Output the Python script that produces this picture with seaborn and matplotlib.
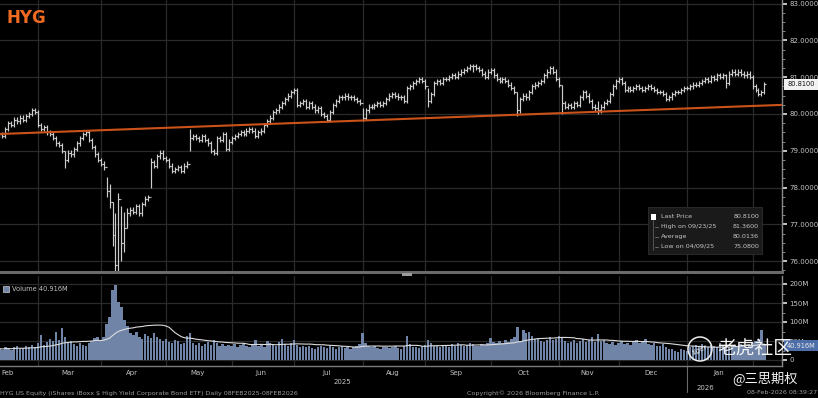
import numpy as np
import pandas as pd
import matplotlib
matplotlib.use("Agg")
import matplotlib.pyplot as plt
import matplotlib.transforms as mtransforms
from matplotlib.patches import Rectangle, Circle
from matplotlib.ticker import AutoMinorLocator
import seaborn as sns

# ------------------------------------------------------------------ data
start_date = "2025-02-10"
end_date = "2026-02-06"

close_2025_02 = [79.35, 79.40, 79.45, 79.40, 79.60, 79.75, 79.70, 79.85, 79.80, 79.90,
                 79.85, 79.95, 80.00, 80.10, 80.05]
close_2025_03 = [79.70, 79.60, 79.65, 79.50, 79.45, 79.35, 79.20, 79.15, 79.00, 78.75,
                 78.95, 78.90, 79.05, 79.20, 79.35, 79.45, 79.50, 79.30, 79.10, 78.90, 78.75]
close_2025_04 = [78.65, 78.55, 77.90, 77.60, 76.70, 75.90, 77.70, 76.50, 76.90, 77.30,
                 77.40, 77.35, 77.50, 77.30, 77.55, 77.70, 77.75, 78.70, 78.60, 78.85, 78.95, 78.80]
close_2025_05 = [78.75, 78.60, 78.45, 78.50, 78.55, 78.45, 78.60, 78.65, 79.35, 79.40,
                 79.35, 79.30, 79.40, 79.30, 79.20, 79.00, 78.95, 79.35, 79.30, 79.45, 79.05, 79.25]
close_2025_06 = [79.35, 79.40, 79.45, 79.50, 79.45, 79.55, 79.60, 79.55, 79.40, 79.50,
                 79.55, 79.70, 79.80, 79.90, 80.05, 80.10, 80.20, 80.30, 80.40, 80.50, 80.60]
close_2025_07 = [80.65, 80.25, 80.30, 80.35, 80.20, 80.30, 80.20, 80.10, 80.15, 80.00,
                 79.95, 79.85, 80.05, 80.25, 80.35, 80.45, 80.45, 80.50, 80.45, 80.45, 80.40, 80.35, 80.30]
close_2025_08 = [79.90, 80.10, 80.20, 80.20, 80.25, 80.30, 80.25, 80.30, 80.40, 80.50,
                 80.55, 80.50, 80.45, 80.45, 80.35, 80.70, 80.75, 80.85, 80.90, 80.95, 80.90]
close_2025_09 = [80.75, 80.35, 80.55, 80.85, 80.90, 80.85, 80.95, 80.95, 81.00, 81.05,
                 81.00, 81.10, 81.15, 81.20, 81.25, 81.30, 81.30, 81.25, 81.20, 81.10, 81.00, 81.15]
close_2025_10 = [81.20, 81.05, 80.95, 80.90, 80.95, 80.90, 80.80, 80.70, 80.60, 80.10,
                 80.40, 80.50, 80.45, 80.60, 80.75, 80.80, 80.85, 80.90, 81.05, 81.15, 81.25, 81.15, 80.95]
close_2025_11 = [80.80, 80.30, 80.20, 80.25, 80.20, 80.30, 80.25, 80.45, 80.60, 80.50,
                 80.35, 80.20, 80.15, 80.10, 80.20, 80.30, 80.35, 80.55, 80.75, 80.90]
close_2025_12 = [80.95, 80.85, 80.65, 80.70, 80.65, 80.70, 80.75, 80.70, 80.65, 80.70,
                 80.75, 80.70, 80.65, 80.60, 80.60, 80.55, 80.40, 80.45, 80.55, 80.60, 80.60, 80.65, 80.70]
close_2026_01 = [80.70, 80.75, 80.80, 80.80, 80.85, 80.90, 80.95, 80.90, 81.00, 80.95,
                 81.05, 81.00, 81.05, 80.85, 81.10, 81.15, 81.10, 81.15, 81.10, 81.05, 81.10, 81.00]
close_2026_02 = [80.75, 80.65, 80.55, 80.60, 80.81]

# days with a wide high-low range
wide_dates = ["2025-03-14", "2025-04-03", "2025-04-04", "2025-04-07", "2025-04-08",
              "2025-04-09", "2025-04-10", "2025-04-11", "2025-04-14", "2025-04-24",
              "2025-05-13", "2025-08-01", "2025-08-22", "2025-09-02", "2025-09-23",
              "2025-10-14", "2025-11-04", "2025-11-20", "2026-01-20"]
wide_lows = [78.53, 77.75, 77.45, 76.40, 75.50, 75.08, 76.00, 76.25, 76.90, 78.00,
             79.00, 79.80, 80.30, 80.20, 81.15, 79.95, 80.00, 80.00, 80.70]
wide_highs = [79.00, 78.30, 78.10, 77.60, 77.30, 77.85, 77.50, 77.35, 77.45, 78.80,
              79.60, 80.15, 80.75, 80.70, 81.36, 80.60, 80.80, 80.35, 81.10]

vol_2025_02 = [28, 32, 30, 26, 35, 30, 27, 33, 38, 29, 31, 36, 34, 40, 33]
vol_2025_03 = [45, 66, 40, 48, 55, 50, 74, 52, 84, 60, 45, 50, 42, 38, 44, 40, 36, 45, 50, 58, 60]
vol_2025_04 = [52, 60, 95, 113, 185, 197, 152, 140, 105, 90, 70, 65, 75, 60, 55, 68, 62, 58, 72, 60, 55, 50]
vol_2025_05 = [55, 48, 45, 52, 50, 42, 46, 62, 70, 45, 40, 44, 38, 42, 47, 40, 52, 45, 38, 42, 36, 40]
vol_2025_06 = [38, 42, 35, 40, 45, 36, 33, 40, 52, 38, 42, 35, 50, 44, 40, 36, 48, 55, 42, 38, 45]
vol_2025_07 = [52, 40, 35, 38, 33, 36, 32, 30, 35, 38, 34, 31, 36, 33, 30, 34, 37, 32, 35, 30, 33, 36, 42]
vol_2025_08 = [72, 45, 38, 34, 36, 32, 30, 33, 35, 31, 34, 38, 32, 30, 36, 62, 42, 35, 33, 31, 38]
vol_2025_09 = [40, 53, 45, 38, 36, 34, 40, 37, 35, 42, 38, 44, 40, 36, 39, 45, 41, 38, 36, 42, 40, 46]
vol_2025_10 = [58, 48, 44, 50, 46, 52, 48, 55, 60, 87, 50, 79, 71, 74, 62, 55, 58, 50, 48, 53, 60, 52, 55]
vol_2025_11 = [62, 58, 50, 45, 48, 52, 44, 50, 55, 47, 52, 60, 48, 68, 50, 53, 46, 42, 48, 40]
vol_2025_12 = [46, 50, 42, 45, 40, 48, 52, 44, 47, 55, 42, 40, 45, 38, 36, 42, 35, 30, 28, 25, 22, 30, 26]
vol_2026_01 = [24, 35, 38, 40, 36, 42, 38, 35, 40, 37, 33, 45, 39, 36, 34, 40, 38, 35, 42, 37, 33, 39]
vol_2026_02 = [45, 50, 55, 79, 40.916]

trend_prices = [79.45, 80.23]          # orange trend line at first / last day
month_names = ["Feb", "Mar", "Apr", "May", "Jun", "Jul", "Aug", "Sep", "Oct", "Nov", "Dec", "Jan", ""]
price_ticks = [76, 77, 78, 79, 80, 81, 82, 83]
vol_ticks = [0, 50, 100, 150, 200]
vol_tick_labels = ["0", "50M", "100M", "150M", "200M"]
legend_rows = [("Last Price", "80.8100"), ("High on 09/23/25", "81.3600"),
               ("Average", "80.0136"), ("Low on 04/09/25", "75.0800")]
last_price_label = "80.8100"
last_volume_label = "40.916M"

# ------------------------------------------------------------------ frame
dates = pd.bdate_range(start_date, end_date)
close = (close_2025_02 + close_2025_03 + close_2025_04 + close_2025_05 + close_2025_06 +
         close_2025_07 + close_2025_08 + close_2025_09 + close_2025_10 + close_2025_11 +
         close_2025_12 + close_2026_01 + close_2026_02)
volume = (vol_2025_02 + vol_2025_03 + vol_2025_04 + vol_2025_05 + vol_2025_06 + vol_2025_07 +
          vol_2025_08 + vol_2025_09 + vol_2025_10 + vol_2025_11 + vol_2025_12 + vol_2026_01 +
          vol_2026_02)
df = pd.DataFrame({"date": dates, "close": close, "volume": volume})
df["i"] = np.arange(len(df))
df["open"] = df["close"].shift(1).fillna(df["close"])
df["low"] = np.minimum(df["open"], df["close"]) - 0.06
df["high"] = np.maximum(df["open"], df["close"]) + 0.06
for d, lo, hi in zip(wide_dates, wide_lows, wide_highs):
    m = df["date"] == pd.Timestamp(d)
    df.loc[m, "low"] = lo
    df.loc[m, "high"] = hi
df["vol_ma"] = df["volume"].rolling(20, min_periods=1).mean()

# ------------------------------------------------------------------ figure
sns.set_theme(style="dark")
plt.rcParams["font.family"] = ["DejaVu Sans"]

W, H = 818, 398
BG = "#000000"
GRID = "#2a2a2a"
TXT = "#c4c4c4"
fig = plt.figure(figsize=(W / 100, H / 100), dpi=100, facecolor=BG)

def fx(x):
    return x / W

def fy(y):
    return 1 - y / H

ax = fig.add_axes([0, fy(272), 782 / W, 272 / H])
axv = fig.add_axes([0, fy(366), 782 / W, 90 / H])
for a in (ax, axv):
    a.set_facecolor(BG)
    for s in ("left", "top"):
        a.spines[s].set_visible(False)
    a.spines["right"].set_color("#8a8a8a")
    a.spines["right"].set_linewidth(1.0)

XL = (2.2, 264.9)

month_key = df["date"].dt.to_period("M")
groups = df.groupby(month_key)["i"]
month_start = groups.min().values
month_end = groups.max().values

# ---------------- price panel
bar_col = "#cdcdcd"
ax.vlines(df["i"], df["low"], df["high"], color=bar_col, lw=0.85)
ax.hlines(df["close"], df["i"], df["i"] + 0.5, color=bar_col, lw=0.85)
ax.hlines(df["open"], df["i"] - 0.5, df["i"], color=bar_col, lw=0.85)
ax.axline((df["i"].iloc[0], trend_prices[0]), (df["i"].iloc[-1], trend_prices[1]),
          color="#cc521b", lw=1.5, zorder=3)

ax.set_xlim(*XL)
ax.set_ylim(80 - 158 / 36.8, 80 + 114 / 36.8)
ax.set_xticks(month_start[1:])
ax.set_xticklabels([])
ax.tick_params(axis="x", length=0)
ax.yaxis.tick_right()
ax.set_yticks(price_ticks)
ax.set_yticklabels([f"{v:.4f}" for v in price_ticks])
ax.yaxis.set_minor_locator(AutoMinorLocator(4))
ax.tick_params(axis="y", which="major", colors=TXT, labelsize=5, length=3.5, width=1.4,
               pad=2, direction="out")
ax.tick_params(axis="y", which="minor", colors="#9a9a9a", length=2, width=0.6)
ax.grid(True, which="major", color=GRID, lw=0.9)
ax.spines["bottom"].set_color("#6a6a6a")
ax.spines["bottom"].set_linewidth(2.2)
ax.set_xlabel("")
ax.set_ylabel("")

# ---------------- volume panel
sns.barplot(data=df, x="i", y="volume", native_scale=True, color="#7084a8", saturation=1,
            width=0.8, errorbar=None, edgecolor="none", ax=axv, zorder=2)
sns.lineplot(x=df["i"], y=df["vol_ma"], color="#dcdcdc", lw=0.8, ax=axv, zorder=3)
axv.set_xlim(*XL)
axv.set_ylim((360 - 366) / 0.38, (360 - 276) / 0.38)
axv.set_xticks(month_start[1:])
axv.set_xticklabels([])
axv.tick_params(axis="x", length=2, width=1.2, colors="#9a9a9a", direction="in")
axv.yaxis.tick_right()
axv.set_yticks(vol_ticks)
axv.set_yticklabels(vol_tick_labels)
axv.yaxis.set_minor_locator(AutoMinorLocator(2))
axv.tick_params(axis="y", which="major", colors=TXT, labelsize=5, length=3.5, width=1.4, pad=2)
axv.tick_params(axis="y", which="minor", colors="#9a9a9a", length=2, width=0.6)
axv.grid(True, which="major", color=GRID, lw=0.9)
axv.spines["bottom"].set_color("#7a7a7a")
axv.spines["bottom"].set_linewidth(1.0)
axv.spines["top"].set_visible(False)
axv.set_xlabel("")
axv.set_ylabel("")

# month labels
trans = mtransforms.blended_transform_factory(axv.transData, fig.transFigure)
for k, (s, e) in enumerate(zip(month_start, month_end)):
    if not month_names[k]:
        continue
    xm = (max(s, XL[0]) + e) / 2
    if k == 0:
        axv.text(XL[0] + 0.3, fy(373), month_names[k], transform=trans, ha="left",
                 va="center", fontsize=5, color=TXT)
    else:
        axv.text(xm, fy(373), month_names[k], transform=trans, ha="center",
                 va="center", fontsize=5, color=TXT)

year_idx = df["date"].dt.year
y25 = df.loc[year_idx == 2025, "i"]
y26 = df.loc[year_idx == 2026, "i"]
axv.text((max(y25.min(), XL[0]) + y25.max()) / 2, fy(382), "2025", transform=trans,
         ha="center", va="center", fontsize=5, color=TXT)
axv.text(y26.min() + 6, fy(388), "2026", transform=trans,
         ha="center", va="center", fontsize=5, color=TXT, zorder=1)
axv.plot([y26.min(), y26.min()], [fy(366), fy(392)], transform=trans, color="#6a6a6a",
         lw=0.8, clip_on=False)

# ---------------- decorations
fig.text(fx(7), fy(18), "HYG", color="#f06a22", fontsize=12, fontweight="bold",
         ha="left", va="center")

fig.add_artist(Rectangle((fx(402), fy(275.5)), 10 / W, 2.5 / H, transform=fig.transFigure,
                         facecolor="#9a9a9a", edgecolor="none"))

# legend box in price panel
fig.add_artist(Rectangle((fx(648), fy(254)), 114 / W, 47 / H, transform=fig.transFigure,
                         facecolor="#1a1a1a", edgecolor="#2e2e2e", lw=0.6, zorder=5))
fig.add_artist(Rectangle((fx(651), fy(220)), 5 / W, 6 / H, transform=fig.transFigure,
                         facecolor="#ffffff", edgecolor="none", zorder=6))
row_y = [216.5, 226.5, 236.5, 246.5]
for (lab, val), yy in zip(legend_rows, row_y):
    fig.text(fx(661), fy(yy), lab, fontsize=4.6, color=TXT, ha="left", va="center", zorder=6)
    fig.text(fx(759), fy(yy), val, fontsize=4.6, color=TXT, ha="right", va="center", zorder=6)
for yy in row_y[1:]:
    fig.add_artist(plt.Line2D([fx(655), fx(658)], [fy(yy), fy(yy)], color="#8a8a8a", lw=0.5, zorder=6))
fig.add_artist(plt.Line2D([fx(653), fx(653)], [fy(220), fy(250)], color="#6a6a6a", lw=0.5, zorder=6))

# last price box
fig.add_artist(Rectangle((fx(784), fy(90)), 34 / W, 11 / H, transform=fig.transFigure,
                         facecolor="#f2f2f2", edgecolor="none", zorder=5))
fig.text(fx(801), fy(84.5), last_price_label, fontsize=4.8, color="#111111",
         ha="center", va="center", zorder=6)

# volume legend + box
fig.add_artist(Rectangle((fx(3), fy(292)), 6 / W, 6 / H, transform=fig.transFigure,
                         facecolor="#7084a8", edgecolor="#d0d0d0", lw=0.5))
fig.text(fx(12), fy(289), "Volume " + last_volume_label, fontsize=4.8, color=TXT,
         ha="left", va="center")
fig.add_artist(Rectangle((fx(784), fy(351)), 34 / W, 11 / H, transform=fig.transFigure,
                         facecolor="#4d6ea8", edgecolor="none", zorder=5))
fig.text(fx(801), fy(345.5), last_volume_label, fontsize=4.8, color="#e8e8e8",
         ha="center", va="center", zorder=6)

# footer
fig.text(fx(0), fy(393), "HYG US Equity (iShares iBoxx $ High Yield Corporate Bond ETF) Daily 08FEB2025-08FEB2026",
         fontsize=4.6, color="#9c9c9c", ha="left", va="center")
fig.text(fx(533), fy(393), "Copyright\u00a9 2026 Bloomberg Finance L.P.", fontsize=4.6,
         color="#9c9c9c", ha="center", va="center")
fig.text(fx(817), fy(393), "08-Feb-2026 08:39:27", fontsize=4.6, color="#9c9c9c",
         ha="right", va="center")

# watermark (pixel coordinates, origin bottom-left)
ident = mtransforms.IdentityTransform()
cjk = ["Noto Sans CJK SC", "DejaVu Sans"]
fig.add_artist(Circle((700, H - 349), 12, transform=ident, facecolor="none",
                      edgecolor="#eeeeee", lw=1.1, zorder=8))
fig.text(fx(700), fy(349.5), "tiger", fontsize=5, color="#eeeeee", ha="center", va="center",
         rotation=25, style="italic", zorder=8)
fig.text(fx(717), fy(349), "老虎社区", fontsize=13.5, color="#f4f4f4", family=cjk,
         ha="left", va="center", zorder=8)
fig.text(fx(732), fy(378), "@三思期权", fontsize=9.5, color="#f4f4f4", family=cjk,
         ha="left", va="center", zorder=8)

fig.savefig("out.png", dpi=100, facecolor=BG)
